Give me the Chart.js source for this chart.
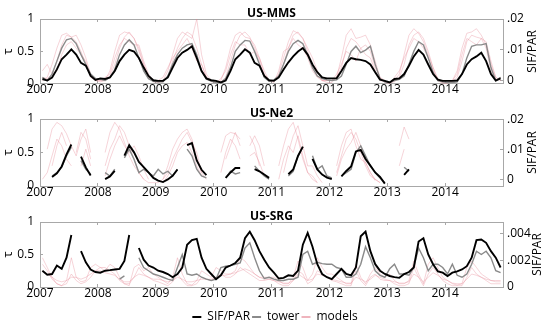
<!DOCTYPE html>
<html>
<head>
<meta charset="utf-8">
<script src="https://cdn.jsdelivr.net/npm/chart.js@4"></script>
<style>
  body { margin: 0; background: #fff; width: 550px; height: 324px; position: relative; overflow: hidden; }
  canvas { position: absolute; left: 0; }
</style>
</head>
<body>
<canvas id="c1" width="550" height="100" style="top:0px"></canvas>
<canvas id="c2" width="550" height="103" style="top:100px"></canvas>
<canvas id="c3" width="550" height="124" style="top:200px"></canvas>
<script>
// monthly time axis, 2007-2014 (decimal years, mid-month)
const months = [];
for (let y = 2007; y < 2015; y++) for (let m = 0; m < 12; m++) months.push(y + (m + 0.5) / 12);

const yearTicks = [2007, 2008, 2009, 2010, 2011, 2012, 2013, 2014];
const tauTicks = [0, 0.5, 1];
const sifTicksMMS = [0, 0.01, 0.02];
const sifTicksNe2 = [0, 0.01, 0.02];
const sifTicksSRG = [0, 0.002, 0.004];
const legendNames = ['SIF/PAR', 'tower', 'models'];

// ---- US-MMS ----
const mmsSif = [
  0.0006, 0.0001, 0.0011, 0.0037, 0.0070, 0.0085, 0.0102, 0.0085, 0.0058, 0.0049, 0.0016, 0.0003,
  0.0008, 0.0006, 0.0011, 0.0032, 0.0064, 0.0085, 0.0100, 0.0095, 0.0074, 0.0043, 0.0016, 0.0002,
  0.0000, 0.0000, 0.0011, 0.0043, 0.0074, 0.0091, 0.0100, 0.0112, 0.0074, 0.0032, 0.0008, 0.0002,
  0.0000, -0.0005, 0.0001, 0.0032, 0.0070, 0.0085, 0.0102, 0.0091, 0.0058, 0.0049, 0.0016, 0.0002,
  0.0000, 0.0011, 0.0037, 0.0060, 0.0079, 0.0095, 0.0106, 0.0085, 0.0053, 0.0028, 0.0011, 0.0008,
  0.0008, 0.0008, 0.0032, 0.0058, 0.0074, 0.0070, 0.0068, 0.0064, 0.0053, 0.0028, 0.0004, 0.0000,
  -0.0005, 0.0006, 0.0008, 0.0022, 0.0049, 0.0079, 0.0100, 0.0085, 0.0053, 0.0022, 0.0004, 0.0000,
  0.0000, 0.0000, 0.0001, 0.0022, 0.0053, 0.0070, 0.0079, 0.0091, 0.0064, 0.0022, 0.0001, 0.0008
];
const mmsTower = [
  0.10, 0.05, 0.15, 0.35, 0.55, 0.68, 0.70, 0.62, 0.45, 0.30, 0.15, 0.08,
  0.07, 0.05, 0.10, 0.22, 0.45, 0.60, 0.68, 0.60, 0.40, 0.20, 0.08, 0.04,
  0.03, 0.03, 0.12, 0.30, 0.45, 0.55, 0.60, 0.62, 0.45, 0.20, 0.07, 0.04,
  0.02, 0.02, 0.08, 0.25, 0.50, 0.60, 0.67, 0.66, 0.50, 0.30, 0.10, 0.04,
  0.06, 0.12, 0.30, 0.50, 0.62, 0.67, 0.62, 0.45, 0.25, 0.12, 0.08, 0.06,
  0.05, 0.06, 0.12, 0.30, 0.50, 0.58, 0.48, 0.52, 0.58, 0.30, 0.08, 0.03,
  0.02, 0.05, 0.07, 0.12, 0.30, 0.50, 0.65, 0.60, 0.40, 0.18, 0.05, 0.03,
  0.02, 0.02, 0.03, 0.15, 0.40, 0.58, 0.60, 0.60, 0.62, 0.25, 0.05, 0.10
];
const mmsModelA = [
  0.05, 0.10, 0.30, 0.55, 0.75, 0.78, 0.72, 0.75, 0.60, 0.40, 0.15, 0.05,
  0.03, 0.05, 0.20, 0.50, 0.75, 0.80, 0.78, 0.70, 0.50, 0.30, 0.10, 0.03,
  0.02, 0.05, 0.20, 0.45, 0.70, 0.80, 0.75, 0.70, 1.00, 0.45, 0.15, 0.05,
  0.02, 0.05, 0.25, 0.55, 0.75, 0.80, 0.72, 0.70, 0.60, 0.40, 0.15, 0.05,
  0.05, 0.15, 0.40, 0.65, 0.82, 0.78, 0.70, 0.55, 0.40, 0.20, 0.05, 0.02,
  0.02, 0.10, 0.40, 0.75, 0.85, 0.70, 0.72, 0.75, 0.60, 0.35, 0.10, 0.02,
  0.00, 0.05, 0.15, 0.45, 0.75, 0.85, 0.78, 0.65, 0.45, 0.25, 0.05, 0.00,
  0.02, 0.05, 0.20, 0.55, 0.78, 0.80, 0.85, 0.75, 0.60, 0.30, 0.10, 0.05
];
const mmsModelB = [
  0.10, 0.08, 0.15, 0.35, 0.60, 0.75, 0.72, 0.65, 0.50, 0.30, 0.12, 0.08,
  0.05, 0.05, 0.12, 0.30, 0.55, 0.72, 0.80, 0.70, 0.55, 0.30, 0.10, 0.05,
  0.03, 0.03, 0.10, 0.35, 0.55, 0.70, 0.80, 0.75, 0.55, 0.30, 0.10, 0.03,
  0.03, 0.03, 0.10, 0.35, 0.60, 0.75, 0.80, 0.72, 0.55, 0.35, 0.10, 0.05,
  0.05, 0.10, 0.30, 0.55, 0.75, 0.80, 0.70, 0.50, 0.30, 0.12, 0.05, 0.05,
  0.05, 0.10, 0.25, 0.55, 0.70, 0.65, 0.55, 0.45, 0.40, 0.20, 0.05, 0.03,
  0.02, 0.03, 0.10, 0.30, 0.60, 0.75, 0.80, 0.70, 0.50, 0.25, 0.08, 0.03,
  0.02, 0.03, 0.10, 0.35, 0.65, 0.75, 0.72, 0.70, 0.65, 0.35, 0.10, 0.05
];
const mmsModelC = [
  0.20, 0.30, 0.15, 0.20, 0.45, 0.60, 0.65, 0.55, 0.45, 0.35, 0.10, 0.05,
  0.05, 0.10, 0.15, 0.40, 0.60, 0.70, 0.65, 0.60, 0.60, 0.35, 0.15, 0.05,
  0.05, 0.10, 0.25, 0.40, 0.50, 0.60, 0.70, 0.55, 0.35, 0.30, 0.10, 0.05,
  0.02, 0.08, 0.20, 0.45, 0.65, 0.60, 0.60, 0.45, 0.50, 0.40, 0.20, 0.05,
  0.02, 0.20, 0.50, 0.55, 0.70, 0.60, 0.55, 0.40, 0.20, 0.10, 0.05, 0.05,
  0.05, 0.15, 0.30, 0.50, 0.45, 0.35, 0.55, 0.60, 0.50, 0.25, 0.10, 0.05,
  0.00, 0.10, 0.20, 0.40, 0.55, 0.70, 0.65, 0.55, 0.40, 0.20, 0.05, 0.02,
  0.00, 0.05, 0.15, 0.45, 0.70, 0.65, 0.60, 0.70, 0.55, 0.20, 0.05, 0.10
];

// ---- US-Ne2 ----
const ne2Sif = [
  null, null, 0.0010, 0.0022, 0.0045, 0.0085, 0.0118, null, 0.0078, 0.0042, 0.0015, null,
  null, 0.0003, 0.0012, 0.0030, null, 0.0081, 0.0116, 0.0092, 0.0060, 0.0043, 0.0025, 0.0007,
  -0.0002, -0.0007, 0.0002, 0.0014, 0.0035, null, 0.0116, 0.0123, 0.0065, 0.0034, 0.0016, null,
  null, null, 0.0007, 0.0025, 0.0040, 0.0040, null, null, 0.0036, 0.0029, 0.0018, 0.0007,
  null, null, null, 0.0019, 0.0035, 0.0080, 0.0111, null, 0.0070, 0.0035, 0.0018, 0.0008,
  0.0003, null, 0.0012, 0.0030, 0.0045, 0.0095, 0.0100, 0.0070, 0.0048, 0.0025, 0.0010, -0.0012,
  null, null, null, 0.0017, 0.0035, null, null, null, null, null, null, null,
  null, null, null, null, null, null, null, null, null, null, null, null
];
const ne2Tower = [
  null, null, 0.15, 0.20, 0.28, 0.45, 0.58, null, 0.38, 0.25, 0.18, null,
  null, 0.20, 0.15, 0.25, null, 0.42, 0.55, 0.40, 0.20, 0.25, 0.20, 0.15,
  0.25, 0.18, 0.22, 0.15, 0.25, null, 0.55, 0.45, 0.25, 0.15, 0.12, null,
  null, null, 0.12, 0.22, 0.18, 0.20, null, null, 0.30, 0.22, 0.15, 0.10,
  null, null, null, 0.15, 0.22, 0.45, 0.58, null, 0.45, 0.25, 0.30, 0.15,
  0.12, null, 0.15, 0.20, 0.25, 0.50, 0.60, 0.45, 0.30, 0.20, 0.12, 0.05,
  null, null, null, 0.28, 0.22, null, null, null, null, null, null, null,
  null, null, null, null, null, null, null, null, null, null, null, null
];
const ne2ModelA = [
  null, 0.55, 0.85, 0.95, 0.90, 0.78, 0.60, 0.45, 0.70, 0.85, 0.50, null,
  null, 0.50, 0.80, 0.95, 0.85, 0.65, 0.45, 0.30, 0.20, 0.10, 0.05, 0.05,
  0.05, 0.10, 0.30, 0.55, 0.70, 0.80, 0.85, 0.70, 0.40, 0.20, null, null,
  null, 0.50, 0.75, 0.80, 0.78, 0.70, null, 0.75, 0.60, 0.30, null, null,
  null, 0.30, 0.60, 0.85, 0.95, 0.70, 0.40, 0.20, 0.10, 0.05, null, null,
  null, 0.30, 0.60, 0.80, 0.85, 0.60, 0.40, 0.35, 0.20, 0.10, 0.05, null,
  null, null, 0.60, 0.88, 0.70, null, null, null, null, null, null, null,
  null, null, null, null, null, null, null, null, null, null, null, null
];
const ne2ModelB = [
  null, null, 0.30, 0.60, 0.80, 0.60, null, 0.50, 0.80, 0.70, 0.40, null,
  null, 0.30, 0.55, 0.70, 0.90, 0.80, 0.60, 0.40, 0.20, 0.10, null, null,
  null, 0.10, 0.20, 0.40, 0.55, 0.70, 0.80, 0.65, 0.50, 0.20, 0.10, null,
  null, null, 0.40, 0.60, 0.80, 0.60, null, 0.60, 0.75, 0.60, 0.30, null,
  null, null, 0.20, 0.50, 0.75, 0.90, 0.60, 0.30, 0.30, 0.15, 0.05, null,
  null, 0.20, 0.45, 0.70, 0.80, 0.70, 0.50, 0.30, 0.15, 0.10, 0.05, null,
  null, null, 0.30, 0.55, null, null, null, null, null, null, null, null,
  null, null, null, null, null, null, null, null, null, null, null, null
];
const ne2ModelC = [
  0.10, 0.20, 0.45, 0.70, 0.60, 0.40, 0.30, null, 0.30, 0.55, 0.30, null,
  null, 0.15, 0.40, 0.60, 0.75, 0.60, 0.50, 0.60, 0.45, 0.25, 0.10, null,
  null, 0.05, 0.15, 0.30, 0.50, 0.60, 0.65, 0.50, 0.30, 0.15, null, null,
  null, 0.20, 0.50, 0.70, 0.60, 0.40, null, 0.45, 0.50, 0.35, 0.15, null,
  null, 0.10, 0.40, 0.60, 0.50, 0.75, 0.45, 0.20, 0.15, 0.05, null, null,
  null, 0.15, 0.40, 0.55, 0.65, 0.80, 0.60, 0.35, 0.20, 0.08, null, null,
  null, null, null, null, null, null, null, null, null, null, null, null,
  null, null, null, null, null, null, null, null, null, null, null, null
];

// ---- US-SRG ----
const srgSif = [
  0.00123, 0.00093, 0.00098, 0.00162, 0.00137, 0.00221, 0.00392, null, 0.00270, 0.00186, 0.00132, 0.00113,
  0.00108, 0.00123, 0.00127, 0.00132, 0.00137, 0.00196, 0.00392, null, 0.00294, 0.00206, 0.00162, 0.00147,
  0.00123, 0.00113, 0.00098, 0.00074, 0.00098, 0.00147, 0.00319, 0.00353, 0.00363, 0.00221, 0.00137, 0.00098,
  0.00059, 0.00088, 0.00147, 0.00162, 0.00181, 0.00221, 0.00368, 0.00417, 0.00353, 0.00270, 0.00206, 0.00147,
  0.00108, 0.00064, 0.00069, 0.00088, 0.00083, 0.00123, 0.00319, 0.00407, 0.00304, 0.00172, 0.00098, 0.00074,
  0.00059, 0.00098, 0.00137, 0.00098, 0.00088, 0.00147, 0.00382, 0.00417, 0.00270, 0.00172, 0.00123, 0.00098,
  0.00083, 0.00074, 0.00069, 0.00098, 0.00113, 0.00147, 0.00343, 0.00368, 0.00245, 0.00172, 0.00118, 0.00108,
  0.00083, 0.00108, 0.00118, 0.00132, 0.00157, 0.00221, 0.00353, 0.00358, 0.00333, 0.00270, 0.00221, 0.00147
];
const srgTower = [
  null, null, null, null, null, null, null, null, null, null, null, null,
  null, null, null, null, 0.12, 0.17, null, null, 0.45, 0.30, 0.25, 0.20,
  0.18, 0.15, 0.12, 0.10, 0.30, 0.50, 0.20, 0.18, 0.20, 0.15, 0.12, 0.10,
  0.12, 0.30, 0.32, 0.33, 0.35, 0.37, 0.60, 0.68, 0.45, 0.25, 0.13, 0.15,
  0.12, 0.10, 0.10, 0.12, 0.12, 0.15, 0.50, 0.55, 0.35, 0.38, 0.36, 0.35,
  0.35, 0.30, 0.28, 0.15, 0.15, 0.20, 0.35, 0.62, 0.45, 0.25, 0.18, 0.15,
  0.28, 0.35, 0.20, 0.20, 0.18, 0.30, 0.60, 0.45, 0.25, 0.35, 0.35, 0.30,
  0.20, 0.35, 0.18, 0.15, 0.20, 0.35, 0.55, 0.50, 0.55, 0.45, 0.25, 0.22
];
const srgModelA = [
  0.45, 0.30, 0.15, 0.05, 0.02, 0.10, 0.45, 0.15, 0.08, 0.10, 0.30, 0.35,
  0.30, 0.25, 0.35, 0.30, 0.15, 0.05, 0.02, 0.30, 0.35, 0.25, 0.30, 0.20,
  0.15, 0.10, 0.05, 0.15, 0.45, 0.20, 0.05, 0.03, 0.10, 0.25, 0.20, 0.15,
  0.30, 0.25, 0.20, 0.20, 0.25, 0.45, 0.40, 0.30, 0.20, 0.15, 0.15, 0.15,
  0.15, 0.10, 0.05, 0.05, 0.15, 0.40, 0.30, 0.10, 0.20, 0.45, 0.30, 0.20,
  0.20, 0.15, 0.10, 0.05, 0.05, 0.35, 0.15, 0.05, 0.20, 0.30, 0.20, 0.15,
  0.20, 0.10, 0.05, 0.05, 0.10, 0.40, 0.20, 0.05, 0.35, 0.45, 0.30, 0.15,
  0.10, 0.05, 0.03, 0.05, 0.30, 0.40, 0.30, 0.20, 0.15, 0.10, 0.10, 0.10
];
const srgModelB = [
  0.35, 0.25, 0.12, 0.05, 0.02, 0.05, 0.20, 0.10, 0.05, 0.08, 0.15, 0.25,
  0.30, 0.30, 0.25, 0.20, 0.10, 0.05, 0.05, 0.15, 0.30, 0.20, 0.15, 0.10,
  0.08, 0.05, 0.02, 0.08, 0.20, 0.10, 0.02, 0.02, 0.05, 0.15, 0.12, 0.10,
  0.15, 0.20, 0.15, 0.15, 0.20, 0.30, 0.25, 0.20, 0.15, 0.10, 0.10, 0.12,
  0.10, 0.05, 0.02, 0.02, 0.10, 0.25, 0.20, 0.05, 0.10, 0.25, 0.20, 0.15,
  0.10, 0.08, 0.05, 0.02, 0.02, 0.25, 0.10, 0.02, 0.15, 0.20, 0.12, 0.10,
  0.10, 0.05, 0.02, 0.02, 0.05, 0.30, 0.15, 0.02, 0.20, 0.30, 0.20, 0.10,
  0.05, 0.02, 0.02, 0.02, 0.15, 0.30, 0.20, 0.15, 0.10, 0.05, 0.05, 0.05
];
const srgModelC = [
  0.25, 0.20, 0.15, 0.10, 0.08, 0.10, 0.15, 0.15, 0.12, 0.15, 0.20, 0.25,
  0.25, 0.22, 0.20, 0.18, 0.12, 0.08, 0.08, 0.15, 0.20, 0.18, 0.15, 0.12,
  0.12, 0.10, 0.08, 0.10, 0.15, 0.12, 0.08, 0.08, 0.10, 0.12, 0.12, 0.12,
  0.15, 0.18, 0.18, 0.20, 0.22, 0.25, 0.28, 0.25, 0.20, 0.15, 0.12, 0.12,
  0.10, 0.08, 0.06, 0.06, 0.10, 0.20, 0.15, 0.10, 0.12, 0.20, 0.18, 0.15,
  0.12, 0.10, 0.08, 0.06, 0.06, 0.15, 0.12, 0.08, 0.12, 0.18, 0.15, 0.12,
  0.10, 0.08, 0.06, 0.06, 0.08, 0.20, 0.15, 0.08, 0.15, 0.22, 0.18, 0.12,
  0.10, 0.06, 0.05, 0.05, 0.12, 0.20, 0.18, 0.15, 0.12, 0.10, 0.08, 0.08
];

const FONT = "'Open Sans', 'DejaVu Sans', sans-serif";
const NARROW = "'Liberation Sans Narrow', 'Open Sans', sans-serif";
const BLACK = '#000000';
const GREY = '#8a8a8a';
const PINK = 'rgba(228, 130, 145, 0.34)';
const AXIS = '#a8a8a8';

const pts = arr => arr.map((v, i) => ({ x: months[i], y: v }));
const setTicks = list => scale => { scale.ticks = list.map(v => ({ value: v })); };

// panel title just above the plot box, SIF/PAR label on the right reading upwards
const panelText = {
  id: 'panelText',
  afterDraw(chart, args, opts) {
    const { ctx, chartArea } = chart;
    ctx.save();
    ctx.fillStyle = '#000';
    ctx.textAlign = 'center';
    ctx.font = 'bold 12px ' + FONT;
    ctx.textBaseline = 'alphabetic';
    ctx.fillText(opts.title, (chartArea.left + chartArea.right) / 2, chartArea.top - 2);
    ctx.translate(opts.sideX, (chartArea.top + chartArea.bottom) / 2);
    ctx.rotate(-Math.PI / 2);
    ctx.font = '12px ' + FONT;
    ctx.textBaseline = 'middle';
    ctx.fillText('SIF/PAR', 0, 0);
    ctx.restore();
  }
};

function panel(id, title, sif, tower, models, sifMin, sifMax, sifTicks, topSpace, xHeight, sideX, withLegend) {
  const datasets = [
    { label: legendNames[0], data: pts(sif), yAxisID: 'y2', borderColor: BLACK, borderWidth: 1.9 },
    { label: legendNames[1], data: pts(tower), yAxisID: 'y', borderColor: GREY, borderWidth: 1.4 }
  ];
  models.forEach(m => datasets.push({ label: legendNames[2], data: pts(m), yAxisID: 'y', borderColor: PINK, borderWidth: 1 }));
  datasets.forEach(d => { d.pointRadius = 0; d.tension = 0; d.fill = false; d.spanGaps = false; });

  new Chart(document.getElementById(id), {
    type: 'line',
    data: { datasets },
    plugins: [panelText],
    options: {
      responsive: false,
      animation: false,
      layout: { padding: 0 },
      plugins: {
        tooltip: { enabled: false },
        panelText: { title: title, sideX: sideX },
        legend: withLegend ? {
          display: true, position: 'bottom', maxHeight: 15,
          labels: {
            font: { family: NARROW, size: 12 }, color: '#000',
            boxWidth: 9, boxHeight: 2, padding: 2,
            generateLabels: () => [BLACK, GREY, 'rgba(228,130,145,0.6)'].map((c, i) => ({
              text: legendNames[i], fillStyle: c, strokeStyle: c, lineWidth: 0, hidden: false, datasetIndex: i
            }))
          }
        } : { display: false }
      },
      scales: {
        x: {
          type: 'linear', position: 'bottom', min: 2007, max: 2015,
          afterBuildTicks: setTicks(yearTicks),
          afterFit: s => { s.height = xHeight; },
          ticks: { callback: v => String(v), color: '#000', font: { family: FONT, size: 12 }, padding: 2, maxRotation: 0, autoSkip: false },
          grid: { drawOnChartArea: false, tickLength: -3, color: AXIS },
          border: { color: AXIS }
        },
        xTop: {
          type: 'linear', position: 'top', min: 2007, max: 2015,
          afterBuildTicks: setTicks(yearTicks),
          afterFit: s => { s.height = topSpace; },
          ticks: { display: false },
          grid: { drawOnChartArea: false, tickLength: -3, color: AXIS },
          border: { color: AXIS }
        },
        y: {
          position: 'left', min: 0, max: 1,
          afterBuildTicks: setTicks(tauTicks),
          afterFit: s => { s.width = 40; },
          ticks: { callback: v => String(v), color: '#000', font: { family: FONT, size: 12 }, padding: 9 },
          title: { display: true, text: 'τ', color: '#000', font: { family: FONT, size: 13 }, padding: 0 },
          grid: { drawOnChartArea: false, tickLength: -3, color: AXIS },
          border: { color: AXIS }
        },
        y2: {
          position: 'right', min: sifMin, max: sifMax,
          afterBuildTicks: setTicks(sifTicks),
          afterFit: s => { s.width = 47; },
          ticks: { callback: v => v === 0 ? '0' : String(v).replace(/^0/, ''), color: '#000', font: { family: FONT, size: 12 }, padding: 7 },
          grid: { drawOnChartArea: false, tickLength: -3, color: AXIS },
          border: { color: AXIS }
        }
      }
    }
  });
}

panel('c1', 'US-MMS', mmsSif, mmsTower, [mmsModelA, mmsModelB, mmsModelC], -0.00095, 0.02, sifTicksMMS, 19, 15, 533, false);
panel('c2', 'US-Ne2', ne2Sif, ne2Tower, [ne2ModelA, ne2ModelB, ne2ModelC], -0.002, 0.0203, sifTicksNe2, 19, 17, 533, false);
panel('c3', 'US-SRG', srgSif, srgTower, [srgModelA, srgModelB, srgModelC], 0, 0.0049, sifTicksSRG, 22, 22, 538, true);
</script>
</body>
</html>
